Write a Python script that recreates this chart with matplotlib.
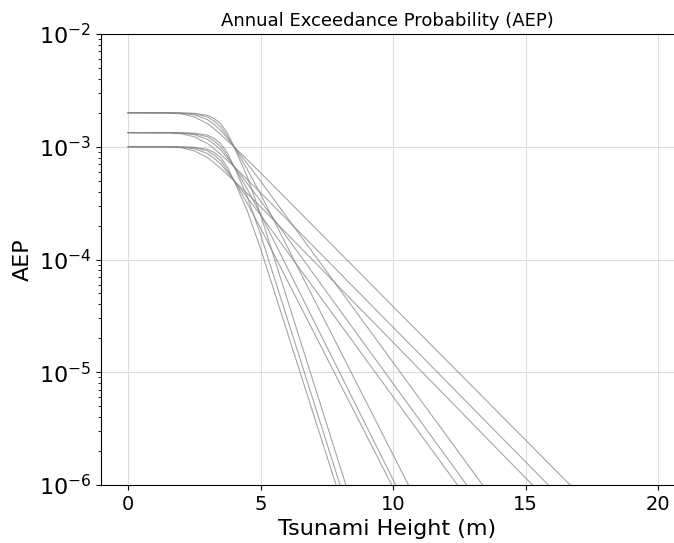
import matplotlib
matplotlib.use("Agg")
import matplotlib.pyplot as plt

heights = [0, 1.5, 2, 2.5, 3, 3.25, 3.5, 3.75, 4, 4.5, 5]

# AEP read at those heights, one row per curve, grouped by plateau rate
aep_rate_1 = [
    [1.0e-3, 1.0e-3, 9.98e-4, 9.9e-4, 9.5e-4, 8.9e-4, 8.0e-4, 6.6e-4, 5.0e-4, 2.7e-4, 1.25e-4],
    [1.0e-3, 1.0e-3, 9.95e-4, 9.8e-4, 9.2e-4, 8.45e-4, 7.5e-4, 6.2e-4, 5.0e-4, 3.15e-4, 1.9e-4],
    [1.0e-3, 9.98e-4, 9.9e-4, 9.6e-4, 8.7e-4, 7.9e-4, 7.0e-4, 5.95e-4, 5.0e-4, 3.54e-4, 2.48e-4],
    [1.0e-3, 9.97e-4, 9.8e-4, 9.2e-4, 8.0e-4, 7.2e-4, 6.4e-4, 5.65e-4, 5.0e-4, 3.84e-4, 2.94e-4],
]
aep_rate_2 = [
    [1.333e-3, 1.333e-3, 1.330e-3, 1.320e-3, 1.266e-3, 1.186e-3, 1.066e-3, 8.8e-4, 6.67e-4, 3.6e-4, 1.67e-4],
    [1.333e-3, 1.333e-3, 1.326e-3, 1.306e-3, 1.226e-3, 1.126e-3, 1.0e-3, 8.26e-4, 6.67e-4, 4.2e-4, 2.53e-4],
    [1.333e-3, 1.330e-3, 1.320e-3, 1.280e-3, 1.160e-3, 1.053e-3, 9.33e-4, 7.93e-4, 6.67e-4, 4.72e-4, 3.31e-4],
    [1.333e-3, 1.329e-3, 1.306e-3, 1.226e-3, 1.066e-3, 9.6e-4, 8.53e-4, 7.53e-4, 6.67e-4, 5.12e-4, 3.92e-4],
]
aep_rate_3 = [
    [2.0e-3, 2.0e-3, 1.996e-3, 1.98e-3, 1.9e-3, 1.78e-3, 1.6e-3, 1.32e-3, 1.0e-3, 5.4e-4, 2.5e-4],
    [2.0e-3, 2.0e-3, 1.99e-3, 1.96e-3, 1.84e-3, 1.69e-3, 1.5e-3, 1.24e-3, 1.0e-3, 6.3e-4, 3.8e-4],
    [2.0e-3, 1.996e-3, 1.98e-3, 1.92e-3, 1.74e-3, 1.58e-3, 1.4e-3, 1.19e-3, 1.0e-3, 7.08e-4, 4.96e-4],
    [2.0e-3, 1.994e-3, 1.96e-3, 1.84e-3, 1.6e-3, 1.44e-3, 1.28e-3, 1.13e-3, 1.0e-3, 7.68e-4, 5.88e-4],
]

# height where each curve reaches the bottom of the axis (1e-6)
end_rate_1 = [7.85, 9.95, 12.43, 15.26]
end_rate_2 = [8.0, 10.1, 12.78, 15.86]
end_rate_3 = [8.22, 10.58, 13.38, 16.68]
aep_floor = 1e-6

fig = plt.figure(figsize=(6.74, 5.43), dpi=100)
ax = fig.add_axes([101 / 674, 1 - 485 / 543, 573 / 674, (485 - 34) / 543])

for rows, ends in [(aep_rate_1, end_rate_1), (aep_rate_2, end_rate_2), (aep_rate_3, end_rate_3)]:
    for vals, end in zip(rows, ends):
        ax.plot(heights + [end], vals + [aep_floor], color="gray", lw=0.8, alpha=0.7)

ax.set_yscale("log")
ax.set_ylim(1e-6, 1e-2)
ax.set_xlim(-1.02, 20.6)
ax.set_xticks([0, 5, 10, 15, 20])
ax.grid(True, which="major", color="#dddddd", lw=0.8)
ax.spines["right"].set_visible(False)
ax.tick_params(axis="x", labelsize=14)
ax.tick_params(axis="y", labelsize=16)
ax.set_xlabel("Tsunami Height (m)", fontsize=16)
ax.set_ylabel("AEP", fontsize=16)
ax.set_title("Annual Exceedance Probability (AEP)", fontsize=13)

fig.savefig("out.png", dpi=100)
